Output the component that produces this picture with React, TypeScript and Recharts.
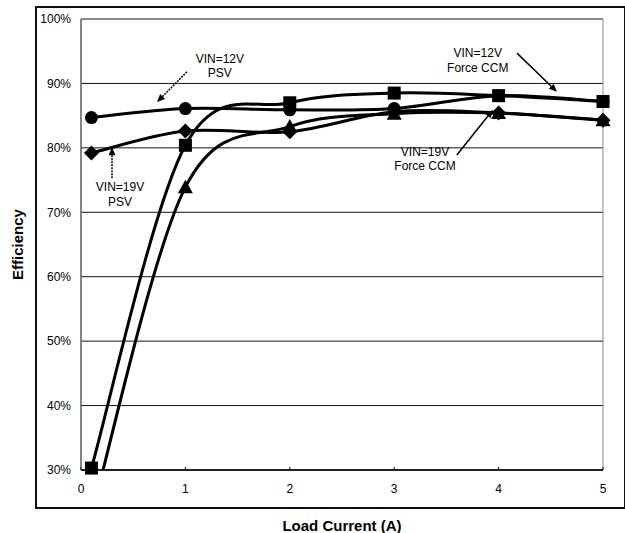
import React from 'react';
import { LineChart, Line, XAxis, YAxis, CartesianGrid, ReferenceArea, ReferenceLine, ReferenceDot, Label } from 'recharts';

// ---- data ----
const loadCurrent = [0.1, 1, 2, 3, 4, 5];
const vin12Psv = [84.7, 86.1, 85.9, 86.1, 88.1, 87.2];
const vin19Psv = [79.2, 82.6, 82.5, 85.6, 85.4, 84.3];
const vin12Fccm = [30.3, 80.4, 87.0, 88.5, 88.1, 87.2];
const vin19Fccm = [23.0, 73.9, 83.3, 85.3, 85.4, 84.3];
const xTicks = [0, 1, 2, 3, 4, 5];
const yTicks = [30, 40, 50, 60, 70, 80, 90, 100];

// annotations (data coordinates)
const annotationText = [
  ['VIN=12V', 'PSV'],
  ['VIN=19V', 'PSV'],
  ['VIN=12V', 'Force CCM'],
  ['VIN=19V', 'Force CCM'],
];
const annotationAnchor = [
  { x: 1.33, y: 93.9 },
  { x: 0.374, y: 73.9 },
  { x: 3.8, y: 94.7 },
  { x: 3.295, y: 79.4 },
];
const arrowFrom = [
  { x: 1.015, y: 91.8 },
  { x: 0.297, y: 75.3 },
  { x: 4.176, y: 94.7 },
  { x: 3.6, y: 78.9 },
];
const arrowTo = [
  { x: 0.728, y: 87.1 },
  { x: 0.297, y: 80.1 },
  { x: 4.559, y: 88.7 },
  { x: 3.946, y: 85.9 },
];
const arrowDashed = [true, true, false, false];

const data = loadCurrent.map((x, i) => ({
  x,
  v12psv: vin12Psv[i],
  v19psv: vin19Psv[i],
  v12fccm: vin12Fccm[i],
  v19fccm: vin19Fccm[i],
}));

// Excel-like smoothed curve (Catmull-Rom via cubic Bezier)
const excelSmooth: any = (context: any) => {
  let pts: number[][] = [];
  return {
    areaStart() {},
    areaEnd() {},
    lineStart() {
      pts = [];
    },
    point(x: number, y: number) {
      pts.push([+x, +y]);
    },
    lineEnd() {
      const n = pts.length;
      if (!n) return;
      context.moveTo(pts[0][0], pts[0][1]);
      if (n === 1) return;
      for (let i = 0; i < n - 1; i++) {
        const p0 = pts[Math.max(i - 1, 0)];
        const p1 = pts[i];
        const p2 = pts[i + 1];
        const p3 = pts[Math.min(i + 2, n - 1)];
        context.bezierCurveTo(
          p1[0] + (p2[0] - p0[0]) / 6,
          p1[1] + (p2[1] - p0[1]) / 6,
          p2[0] - (p3[0] - p1[0]) / 6,
          p2[1] - (p3[1] - p1[1]) / 6,
          p2[0],
          p2[1]
        );
      }
    },
  };
};

const makeDot = (shape: string) => (props: any) => {
  const { cx, cy, index } = props;
  const key = `${shape}-${index}`;
  if (cx == null || cy == null) return <g key={key} />;
  if (shape === 'circle') return <circle key={key} cx={cx} cy={cy} r={6.5} fill="#000" />;
  if (shape === 'square') return <rect key={key} x={cx - 6.5} y={cy - 6.5} width={13} height={13} fill="#000" />;
  if (shape === 'diamond')
    return <polygon key={key} points={`${cx},${cy - 7.5} ${cx + 7.5},${cy} ${cx},${cy + 7.5} ${cx - 7.5},${cy}`} fill="#000" />;
  return <polygon key={key} points={`${cx},${cy - 7.5} ${cx + 7.5},${cy + 6} ${cx - 7.5},${cy + 6}`} fill="#000" />;
};

const Arrow = (p: any) => {
  const { x1, y1, x2, y2, dashed } = p;
  const ang = Math.atan2(y2 - y1, x2 - x1);
  const L = 8;
  const W = 3.5;
  const bx = x2 - L * Math.cos(ang);
  const by = y2 - L * Math.sin(ang);
  const s = Math.sin(ang);
  const c = Math.cos(ang);
  return (
    <g>
      <line x1={x1} y1={y1} x2={bx} y2={by} stroke="#000" strokeWidth={1.5} strokeDasharray={dashed ? '2 1' : undefined} />
      <polygon points={`${x2},${y2} ${bx + W * s},${by - W * c} ${bx - W * s},${by + W * c}`} fill="#000" />
    </g>
  );
};

const AnnotationText = (p: any) => {
  const { cx, cy, lines } = p;
  return (
    <text x={cx} y={cy} textAnchor="middle" fontSize={12} fill="#000" fontFamily='"Liberation Sans", Arial, sans-serif'>
      {lines.map((t: string, i: number) => (
        <tspan key={i} x={cx} y={cy + i * 14.5} dy="0.35em">
          {t}
        </tspan>
      ))}
    </text>
  );
};

export default function App() {
  return (
    <div
      style={{
        position: 'absolute',
        left: 0,
        top: 0,
        width: 625,
        height: 533,
        background: '#fff',
        fontFamily: '"Liberation Sans", Arial, sans-serif',
      }}
    >
      <div
        style={{
          position: 'absolute',
          left: 35,
          top: 6,
          width: 587,
          height: 499,
          border: '2px solid #111',
          pointerEvents: 'none',
        }}
      />
      <LineChart width={625} height={533} data={data} margin={{ top: 19, right: 22, bottom: 0, left: 0 }}>
        <CartesianGrid horizontal vertical={false} stroke="#111" strokeWidth={1} />
        <ReferenceArea x1={0} x2={5} y1={30} y2={100} fill="none" stroke="#8a8a8a" strokeWidth={1} />
        <XAxis
          dataKey="x"
          type="number"
          domain={[0, 5]}
          ticks={xTicks}
          height={63}
          tickSize={-3}
          tickMargin={17}
          stroke="#000"
          axisLine={{ stroke: '#000', strokeWidth: 1.5 }}
          tickLine={{ stroke: '#000' }}
          tick={{ fill: '#000', fontSize: 12 }}
        >
          <Label value="Load Current (A)" position="insideBottom" offset={2} style={{ fontSize: 15, fontWeight: 'bold', fill: '#000' }} />
        </XAxis>
        <YAxis
          type="number"
          domain={[30, 100]}
          ticks={yTicks}
          width={81}
          tickLine={false}
          tickSize={6}
          tickMargin={4}
          axisLine={{ stroke: '#444', strokeWidth: 1 }}
          tick={{ fill: '#000', fontSize: 12 }}
          tickFormatter={(v: number) => `${v}%`}
          interval={0}
        >
          <Label
            value="Efficiency"
            angle={-90}
            position="insideLeft"
            offset={18}
            style={{ fontSize: 15, fontWeight: 'bold', fill: '#000', textAnchor: 'middle' }}
          />
        </YAxis>
        <YAxis yAxisId="clip" type="number" domain={[30, 100]} allowDataOverflow hide />
        <Line dataKey="v12psv" type={excelSmooth} stroke="#000" strokeWidth={3} dot={makeDot('circle')} activeDot={false} isAnimationActive={false} />
        <Line dataKey="v19psv" type={excelSmooth} stroke="#000" strokeWidth={3} dot={makeDot('diamond')} activeDot={false} isAnimationActive={false} />
        <Line dataKey="v12fccm" type={excelSmooth} stroke="#000" strokeWidth={3} dot={makeDot('square')} activeDot={false} isAnimationActive={false} />
        <Line yAxisId="clip" dataKey="v19fccm" type={excelSmooth} stroke="#000" strokeWidth={3} dot={makeDot('triangle')} activeDot={false} isAnimationActive={false} />
        {annotationText.map((lines, i) => (
          <ReferenceDot
            key={`t${i}`}
            x={annotationAnchor[i].x}
            y={annotationAnchor[i].y}
            r={0}
            shape={(p: any) => <AnnotationText {...p} lines={lines} />}
          />
        ))}
        {arrowFrom.map((f, i) => (
          <ReferenceLine
            key={`a${i}`}
            segment={[f, arrowTo[i]]}
            shape={(p: any) => <Arrow {...p} dashed={arrowDashed[i]} />}
          />
        ))}
      </LineChart>
    </div>
  );
}
